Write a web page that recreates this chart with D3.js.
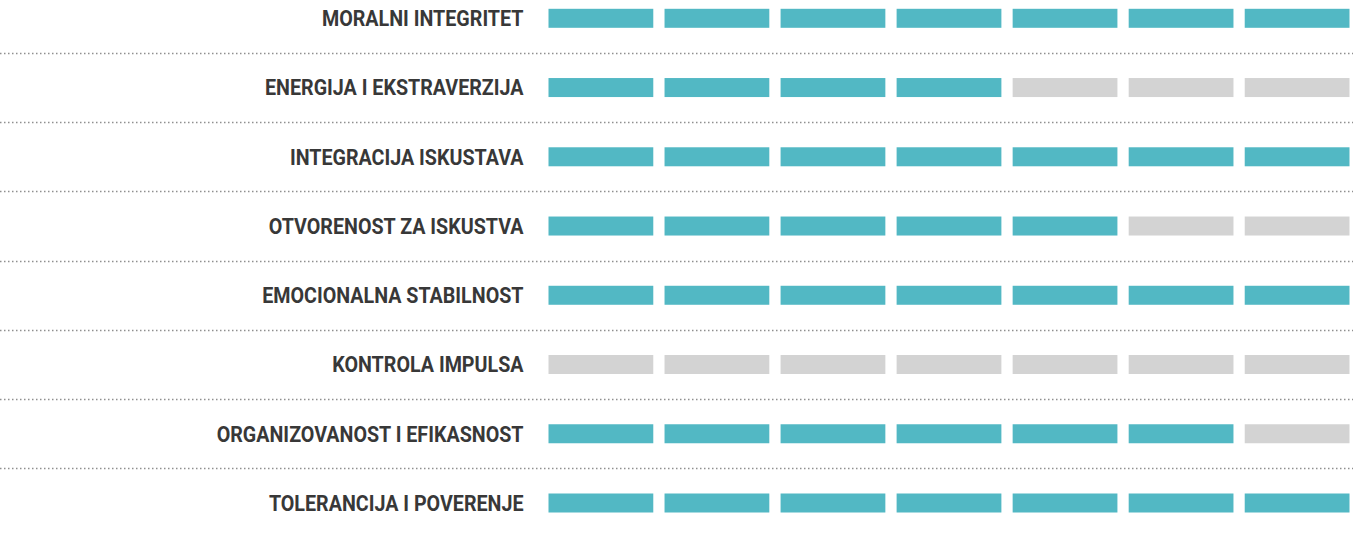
<!DOCTYPE html>
<html>
<head>
<meta charset="utf-8">
<script src="https://cdn.jsdelivr.net/npm/d3@7"></script>
<style>
  html, body { margin: 0; padding: 0; background: #fff; }
</style>
</head>
<body>
<div id="chart"></div>
<script>
// traits shown in the chart, top to bottom
var categories = [
  "MORALNI INTEGRITET",
  "ENERGIJA I EKSTRAVERZIJA",
  "INTEGRACIJA ISKUSTAVA",
  "OTVORENOST ZA ISKUSTVA",
  "EMOCIONALNA STABILNOST",
  "KONTROLA IMPULSA",
  "ORGANIZOVANOST I EFIKASNOST",
  "TOLERANCIJA I POVERENJE"
];
// filled segments per trait (out of maxScore)
var scores = [7, 4, 7, 5, 7, 0, 6, 7];
var maxScore = 7;

var cfg = {
  w: 1353,
  h: 536,
  on: "#52b8c4",
  off: "#d3d3d3",
  textColor: "#383838",
  condense: 0.895   // fake a condensed face
};

var svg = d3.select("#chart")
  .append("svg")
  .attr("width", cfg.w)
  .attr("height", cfg.h);

var y = d3.scalePoint()
  .domain(categories)
  .range([18.3, 503]);

var x = d3.scaleBand()
  .domain(d3.range(maxScore))
  .range([548.5, 1349.5])
  .paddingInner(0.097)
  .paddingOuter(0);

var barH = 19;

// dotted separators between rows
svg.append("g")
  .selectAll("line")
  .data(categories.slice(1))
  .enter()
  .append("line")
    .attr("x1", 0)
    .attr("x2", cfg.w)
    .attr("y1", (d, i) => Math.round((y(categories[i]) + y(d)) / 2) + 0.5)
    .attr("y2", (d, i) => Math.round((y(categories[i]) + y(d)) / 2) + 0.5)
    .attr("stroke", "#8f8f8f")
    .attr("stroke-width", 1.5)
    .attr("stroke-dasharray", "1.5,2.5");

// segments
var rows = svg.append("g")
  .selectAll("g")
  .data(categories.map((c, i) => ({cat: c, score: scores[i]})))
  .enter()
  .append("g")
    .attr("transform", d => "translate(0," + (y(d.cat) - barH / 2) + ")");

rows.selectAll("rect")
  .data(d => d3.range(maxScore).map(k => ({k: k, filled: k < d.score})))
  .enter()
  .append("rect")
    .attr("x", d => x(d.k))
    .attr("y", 0)
    .attr("width", x.bandwidth())
    .attr("height", barH)
    .attr("fill", d => d.filled ? cfg.on : cfg.off);

// labels
var labelX = 523.5;
svg.append("g")
  .selectAll("text")
  .data(categories)
  .enter()
  .append("text")
    .attr("transform", d => "translate(" + labelX + "," + y(d) + ") scale(" + cfg.condense + ",1)")
    .attr("dy", "0.36em")
    .attr("text-anchor", "end")
    .attr("font-family", "Roboto, sans-serif")
    .attr("font-weight", 700)
    .attr("font-size", "22px")
    .attr("fill", cfg.textColor)
    .text(d => d);
</script>
</body>
</html>
